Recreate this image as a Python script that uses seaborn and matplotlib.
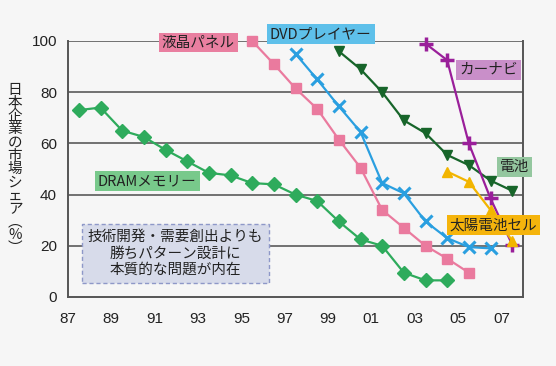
import numpy as np
import pandas as pd
import matplotlib
matplotlib.use("Agg")
import matplotlib.pyplot as plt
import seaborn as sns

# ---- data ----
dram_years = [1987.5, 1988.5, 1989.5, 1990.5, 1991.5, 1992.5, 1993.5, 1994.5, 1995.5,
              1996.5, 1997.5, 1998.5, 1999.5, 2000.5, 2001.5, 2002.5, 2003.5, 2004.5]
dram_vals = [73, 74, 65, 62.5, 57.5, 53, 48.5, 47.5, 44.5, 44, 40, 37.5, 29.5, 22.5, 20, 9.5, 6.5, 6.5]

lcd_years = [1995.5, 1996.5, 1997.5, 1998.5, 1999.5, 2000.5, 2001.5, 2002.5, 2003.5, 2004.5, 2005.5]
lcd_vals = [100, 91, 81.5, 73.5, 61.5, 50.5, 34, 27, 20, 15, 9.5]

dvd_years = [1997.5, 1998.5, 1999.5, 2000.5, 2001.5, 2002.5, 2003.5, 2004.5, 2005.5, 2006.5]
dvd_vals = [95, 85, 74.5, 64.5, 44.5, 40.5, 29.5, 23, 19.5, 19]

battery_years = [1999.5, 2000.5, 2001.5, 2002.5, 2003.5, 2004.5, 2005.5, 2006.5, 2007.5]
battery_vals = [96, 89, 80, 69, 64, 55.5, 51.5, 45.5, 41.5]

navi_years = [2003.5, 2004.5, 2005.5, 2006.5, 2007.5]
navi_vals = [99, 92.5, 60, 38.5, 20.5]

solar_years = [2004.5, 2005.5, 2006.5, 2007.5]
solar_vals = [49, 45, 34, 22]

xtick_years = [1987, 1989, 1991, 1993, 1995, 1997, 1999, 2001, 2003, 2005, 2007]
xtick_labels = ["87", "89", "91", "93", "95", "97", "99", "01", "03", "05", "07"]
yticks = [0, 20, 40, 60, 80, 100]

series_names = ["DRAMメモリー", "液晶パネル", "DVDプレイヤー", "電池", "カーナビ", "太陽電池セル"]
ylabel_text = "日本企業の市場シェア︵%︶"
note_lines = ["技術開発・需要創出よりも", "勝ちパターン設計に", "本質的な問題が内在"]

# ---- style ----
sns.set_style("white")
plt.rcParams['font.family'] = ['Noto Sans CJK JP', 'DejaVu Sans']
BG = "#f6f6f6"

fig = plt.figure(figsize=(5.56, 3.66), dpi=100, facecolor=BG)
ax = fig.add_axes([68/556, 1-297/366, (523-68)/556, (297-41)/366])
ax.set_facecolor(BG)

styles = [
    (dram_years, dram_vals, "#2eab5c", "D", 7, 1.0),
    (lcd_years, lcd_vals, "#ea7a9e", "s", 7, 1.0),
    (dvd_years, dvd_vals, "#2a9fe0", "x", 8, 2.2),
    (battery_years, battery_vals, "#17652a", "v", 7.5, 1.0),
    (navi_years, navi_vals, "#9a1f9a", "+", 10, 2.5),
    (solar_years, solar_vals, "#f2b500", "^", 7.5, 1.0),
]

# grid lines
for yv in [20, 40, 60, 80, 100]:
    ax.axhline(yv, color="#5a5a5a", lw=1.2, zorder=1)

for (xs, ys, col, mk, ms, mew), name in zip(styles, series_names):
    df = pd.DataFrame({"year": xs, "share": ys})
    sns.lineplot(data=df, x="year", y="share", ax=ax, color=col, marker=mk,
                 markersize=ms, markeredgewidth=mew, markeredgecolor=col,
                 linewidth=1.6, zorder=3, clip_on=False)

ax.set_xlim(1987, 2008)
ax.set_ylim(0, 100)
ax.set_xticks(xtick_years)
ax.set_xticklabels(xtick_labels)
ax.set_xticks(np.arange(1988, 2008, 1), minor=True)
ax.set_yticks(yticks)
ax.set_yticks([10, 30, 50, 70, 90], minor=True)
ax.tick_params(axis="both", which="both", direction="in", color="#444444", width=1.0)
ax.tick_params(axis="x", which="both", length=5, pad=11, labelsize=11, labelcolor="#222222")
ax.tick_params(axis="y", which="both", length=5, pad=8, labelsize=11, labelcolor="#222222")
for lab in ax.get_xticklabels() + ax.get_yticklabels():
    lab.set_family(["Liberation Sans", "DejaVu Sans"])

for side in ["left", "bottom", "right", "top"]:
    ax.spines[side].set_visible(True)
    ax.spines[side].set_color("#555555")
    ax.spines[side].set_linewidth(1.4)
ax.spines["top"].set_visible(False)

ax.set_xlabel("")
ax.set_ylabel("")

# vertical stacked y label
fig.text(15/556, 1-169/366, "\n".join(ylabel_text), ha="center", va="center",
         fontsize=10.5, linespacing=0.93, color="#222222")

# series labels
labels = [
    (1990.66, 45.3, series_names[0], "#78c98b"),
    (1993.02, 99.4, series_names[1], "#e97fa0"),
    (1998.67, 102.7, series_names[2], "#5ec0ea"),
    (2007.6, 50.8, series_names[3], "#94c79f"),
    (2006.4, 88.7, series_names[4], "#c98fc9"),
    (2006.63, 28.1, series_names[5], "#f5b40c"),
]
for x, y, t, c in labels:
    ax.text(x, y, t, ha="center", va="center", fontsize=10.5, color="#222222",
            zorder=6, clip_on=False,
            bbox=dict(boxstyle="square,pad=0.2", fc=c, ec="none"))

# note box
ax.text(1991.95, 17.0, "\n".join(note_lines), ha="center", va="center",
        fontsize=10.5, color="#222222", linespacing=1.2, zorder=6,
        bbox=dict(boxstyle="square,pad=0.4", fc="#d7dbea", ec="#8e98c8",
                  ls=(0, (3, 2)), lw=1.0))

fig.savefig("out.png", dpi=100, facecolor=BG)
